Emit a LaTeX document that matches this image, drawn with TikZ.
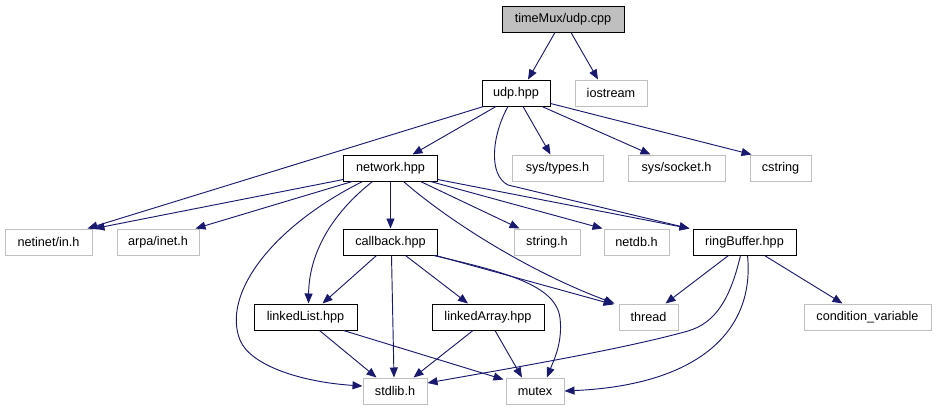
\documentclass[tikz,border=0pt]{standalone}
\usepackage{fontspec}
\setmainfont{Liberation Sans}
\definecolor{edgeBlue}{RGB}{25, 25, 112}
\definecolor{sysGray}{RGB}{191, 191, 191}
\usetikzlibrary{arrows.meta, calc}

\begin{document}
\begin{tikzpicture}[x=0.75pt, y=-0.75pt,
    file/.style={draw=black, fill=white, line width=0.75pt, font=\fontsize{9.5}{11}\selectfont,
                 minimum height=19.5pt, inner xsep=2pt, inner ysep=0pt},
    sysfile/.style={file, draw=sysGray},
    dep/.style={draw=edgeBlue, line width=0.7pt, -{Triangle[length=7.5pt, width=6pt]}}]
    \useasboundingbox (0,0) rectangle (936,411);

    % files
    \node[file, fill=sysGray, minimum width=91.5pt] (udpcpp) at (563,19) {timeMux/udp.cpp};
    \node[file, minimum width=51pt] (udphpp) at (516,93) {udp.hpp};
    \node[sysfile, minimum width=54pt] (iostream) at (611,93) {iostream};
    \node[file, minimum width=70pt] (network) at (390.5,168) {network.hpp};
    \node[sysfile, minimum width=68.25pt] (systypes) at (557.5,168) {sys/types.h};
    \node[sysfile, minimum width=72.75pt] (syssocket) at (676.5,168) {sys/socket.h};
    \node[sysfile, minimum width=45.75pt] (cstring) at (780.5,168) {cstring};
    \node[sysfile, minimum width=65.25pt] (netinet) at (48.5,242) {netinet/in.h};
    \node[sysfile, minimum width=61.5pt] (arpainet) at (158,242) {arpa/inet.h};
    \node[file, minimum width=70pt] (callback) at (390.5,242) {callback.hpp};
    \node[sysfile, minimum width=49.5pt] (stringh) at (547,242) {string.h};
    \node[sysfile, minimum width=48.75pt] (netdb) at (636.5,242) {netdb.h};
    \node[file, minimum width=77.25pt] (ringbuffer) at (744.5,242) {ringBuffer.hpp};
    \node[file, minimum width=77.25pt] (linkedlist) at (305.5,317) {linkedList.hpp};
    \node[file, minimum width=84pt] (linkedarray) at (488,317) {linkedArray.hpp};
    \node[sysfile, minimum width=44.25pt] (thread) at (648.5,317) {thread};
    \node[sysfile, minimum width=95.25pt] (condvar) at (867.5,317) {condition\_variable};
    \node[sysfile, minimum width=48pt] (stdlib) at (395,391) {stdlib.h};
    \node[sysfile, minimum width=43.5pt] (mutex) at (535,391) {mutex};

    % timeMux/udp.cpp
    \draw[dep] ($(udpcpp.south)+(-8,0)$) -- ($(udphpp.north)+(12,0)$);
    \draw[dep] ($(udpcpp.south)+(8,0)$) -- ($(iostream.north)+(-13,0)$);

    % udp.hpp
    \draw[dep] ($(udphpp.south west)+(2,0)$) -- ($(netinet.north east)+(-5,0)$);
    \draw[dep] ($(udphpp.south)+(-20,0)$) -- ($(network.north)+(22,0)$);
    \draw[dep] ($(udphpp.south)+(7,0)$) -- ($(systypes.north)+(-7,0)$);
    \draw[dep] ($(udphpp.south)+(26,0)$) -- ($(syssocket.north)+(-26,0)$);
    \draw[dep] ($(udphpp.south east)+(0,-3)$) -- ($(cstring.north west)+(2,0)$);
    \draw[dep] ($(udphpp.south)+(-8,0)$) .. controls (492,135) and (488,175) .. (508,185)
        -- ($(ringbuffer.north west)+(-3,0)$);

    % network.hpp
    \draw[dep] ($(network.south west)+(0,-2)$) -- ($(netinet.north east)+(2,0)$);
    \draw[dep] ($(network.south west)+(9,0)$) -- ($(arpainet.north east)+(-4,0)$);
    \draw[dep] (network.south) -- (callback.north);
    \draw[dep] ($(network.south)+(30,0)$) -- ($(stringh.north west)+(6,0)$);
    \draw[dep] ($(network.south)+(40,0)$) -- ($(netdb.north west)+(-1,0)$);
    \draw[dep] ($(network.south east)+(0,-2)$) -- ($(ringbuffer.north west)+(-3,0)$);
    \draw[dep] ($(network.south)+(13,0)$) .. controls (450,222) and (530,272) .. ($(thread.north west)+(-4,0)$);
    \draw[dep] ($(network.south)+(-28,0)$) .. controls (270,228) and (222,295) .. (240,340)
        .. controls (250,365) and (300,382) .. ($(stdlib.west)+(0,-5)$);
    \draw[dep] ($(network.south)+(-18,0)$) .. controls (330,215) and (309,255) .. ($(linkedlist.north)+(3,0)$);

    % callback.hpp
    \draw[dep] ($(callback.south)+(-14,0)$) -- ($(linkedlist.north)+(17,0)$);
    \draw[dep] ($(callback.south)+(1,0)$) -- ($(stdlib.north)+(-1,0)$);
    \draw[dep] ($(callback.south)+(15,0)$) -- ($(linkedarray.north)+(-20,0)$);
    \draw[dep] ($(callback.south east)+(-2,0)$) -- ($(thread.north west)+(-5,1)$);
    \draw[dep] ($(callback.south east)+(-4,0)$) .. controls (505,272) and (556,285) .. (560,318)
        .. controls (563,343) and (553,362) .. ($(mutex.north)+(12,0)$);

    % linkedList.hpp, linkedArray.hpp
    \draw[dep] ($(linkedlist.south)+(14,0)$) -- ($(stdlib.north west)+(14,0)$);
    \draw[dep] ($(linkedlist.south)+(38,0)$) -- ($(mutex.north west)+(-2,2)$);
    \draw[dep] ($(linkedarray.south)+(-15,0)$) -- ($(stdlib.north east)+(-14,0)$);
    \draw[dep] ($(linkedarray.south)+(7,0)$) -- ($(mutex.north)+(-13,0)$);

    % ringBuffer.hpp
    \draw[dep] ($(ringbuffer.south)+(-16,0)$) -- ($(thread.north)+(17,0)$);
    \draw[dep] ($(ringbuffer.south)+(20,0)$) -- ($(condvar.north)+(-25,0)$);
    \draw[dep] ($(ringbuffer.south)+(-4,0)$) .. controls (730,300) and (715,323) .. (688,331)
        .. controls (620,350) and (500,370) .. ($(stdlib.east)+(0,-8)$);
    \draw[dep] ($(ringbuffer.south)+(3,0)$) .. controls (755,330) and (700,385) .. (mutex.east);
\end{tikzpicture}
\end{document}
